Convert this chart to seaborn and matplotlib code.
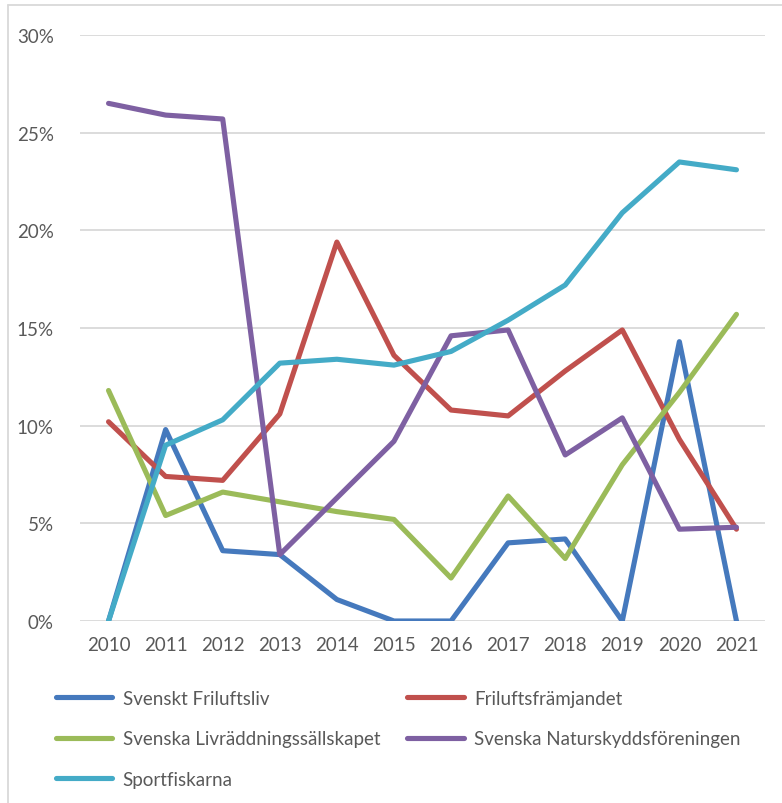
import matplotlib
matplotlib.use("Agg")
import matplotlib.pyplot as plt
import matplotlib.lines as mlines
import seaborn as sns
import pandas as pd

years = [2010, 2011, 2012, 2013, 2014, 2015, 2016, 2017, 2018, 2019, 2020, 2021]
svenskt_friluftsliv = [0.0, 9.8, 3.6, 3.4, 1.1, 0.0, 0.0, 4.0, 4.2, 0.0, 14.3, 0.0]
friluftsframjandet = [10.2, 7.4, 7.2, 10.6, 19.4, 13.6, 10.8, 10.5, 12.8, 14.9, 9.3, 4.7]
livraddning = [11.8, 5.4, 6.6, 6.1, 5.6, 5.2, 2.2, 6.4, 3.2, 8.0, 11.7, 15.7]
naturskydd = [26.5, 25.9, 25.7, 3.4, 6.3, 9.2, 14.6, 14.9, 8.5, 10.4, 4.7, 4.8]
sportfiskarna = [0.0, 9.0, 10.3, 13.2, 13.4, 13.1, 13.8, 15.4, 17.2, 20.9, 23.5, 23.1]

series_names = ["Svenskt Friluftsliv", "Friluftsfrämjandet", "Svenska Livräddningssällskapet",
                "Svenska Naturskyddsföreningen", "Sportfiskarna"]
series_values = [svenskt_friluftsliv, friluftsframjandet, livraddning, naturskydd, sportfiskarna]
colors = ["#4579BD", "#C0504D", "#9BBB59", "#7E60A2", "#44ABC7"]
y_ticks = [0, 5, 10, 15, 20, 25, 30]
y_tick_labels = ["0%", "5%", "10%", "15%", "20%", "25%", "30%"]

rows = []
for name, vals in zip(series_names, series_values):
    for y, v in zip(years, vals):
        rows.append({"year": y, "value": v, "series": name})
df = pd.DataFrame(rows)

sns.set_style("white")
plt.rcParams["font.family"] = ["Lato", "DejaVu Sans"]

W, H = 782, 804
fig = plt.figure(figsize=(W / 100, H / 100), dpi=100)
ax = fig.add_axes([80 / W, 1 - 622 / H, (765 - 80) / W, (622 - 36) / H])

sns.lineplot(data=df, x="year", y="value", hue="series", hue_order=series_names,
             palette=dict(zip(series_names, colors)), linewidth=3.7, ax=ax,
             legend=False, solid_capstyle="round", solid_joinstyle="round")

ax.set_xlim(2009.5, 2021.5)
ax.set_ylim(0, 30)
ax.set_yticks(y_ticks)
ax.set_yticklabels(y_tick_labels)
ax.set_xticks(years)
ax.set_xticklabels([str(y) for y in years])
ax.yaxis.grid(True, color="#D9D9D9", linewidth=1.3)
ax.set_axisbelow(True)
for s in ax.spines.values():
    s.set_visible(False)
ax.tick_params(axis="y", length=0, pad=19, labelsize=13.5, labelcolor="#595959")
ax.tick_params(axis="x", length=0, pad=11, labelsize=13.5, labelcolor="#595959")
ax.set_xlabel("")
ax.set_ylabel("")

handles = [mlines.Line2D([], [], color=c, linewidth=3.7, solid_capstyle="round") for c in colors]
# row-major order for a 2-column legend
order = [0, 2, 4, 1, 3]
fig.legend([handles[i] for i in order], [series_names[i] for i in order],
           loc="upper left", bbox_to_anchor=(56 / W, 1 - 691 / H),
           ncol=2, frameon=False, fontsize=13.5, labelcolor="#595959",
           handlelength=3.0, handletextpad=0.55, columnspacing=1.45, labelspacing=1.25,
           borderpad=0, borderaxespad=0)

# outer frame (left and top edges visible)
fig.add_artist(mlines.Line2D([8 / W, 8 / W], [0, 1 - 6 / H], color="#D9D9D9", linewidth=1.3,
                             transform=fig.transFigure))
fig.add_artist(mlines.Line2D([8 / W, 1], [1 - 6 / H, 1 - 6 / H], color="#D9D9D9", linewidth=1.3,
                             transform=fig.transFigure))

fig.savefig("out.png", dpi=100)
